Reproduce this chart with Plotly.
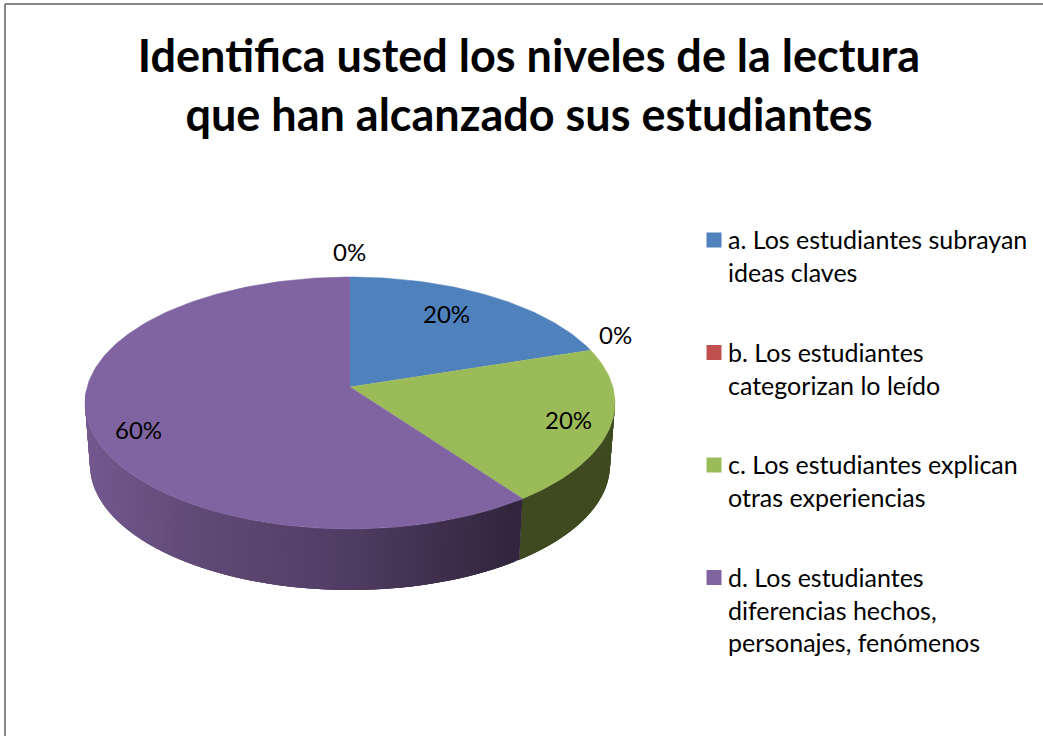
"""
Pastel 3D de los niveles de lectura, dibujado con trazos Scatter sobre ejes en pixeles.
"""
import math
import numpy as np
import plotly.graph_objects as go

TITLE = 'Identifica usted los niveles de la lectura<br>que han alcanzado sus estudiantes'
categories = [
    'a. Los estudiantes subrayan<br>ideas claves',
    'b. Los estudiantes<br>categorizan lo leído',
    'c. Los estudiantes explican<br>otras experiencias',
    'd. Los estudiantes<br>diferencias hechos,<br>personajes, fenómenos',
]
values = [20, 0, 20, 60]
labels = ['20%', '0%', '20%', '60%']
label_zero_top = '0%'

colors = ['#4F81BD', '#C0504D', '#9BBB59', '#8064A2']
side_flat = {2: '#3F4A20'}
FONT = 'Lato'

# geometria del disco (pixeles de la pagina)
WIDTH, HEIGHT = 1043, 736
CX, CY, RX, RY = 350, 403, 265, 126
CY2, RX2, RY2 = 465, 260, 125
APEX = (350, 387)
TILT = 0.47


def rim_point(theta):
    """Corta el rayo desde el vertice con el borde de la elipse superior."""
    dx, dy = math.sin(theta), -math.cos(theta) * TILT
    ox, oy = (APEX[0] - CX) / RX, (APEX[1] - CY) / RY
    a = (dx / RX) ** 2 + (dy / RY) ** 2
    b = 2 * (ox * dx / RX + oy * dy / RY)
    c = ox ** 2 + oy ** 2 - 1
    s = (-b + math.sqrt(b * b - 4 * a * c)) / (2 * a)
    return APEX[0] + s * dx, APEX[1] + s * dy


def purple_shade(x):
    """Degradado del lateral morado, mas oscuro hacia la derecha."""
    stops_x = [85, 200, 350, 450, 522]
    r = np.interp(x, stops_x, [116, 96, 80, 62, 49])
    g = np.interp(x, stops_x, [89, 74, 61, 46, 38])
    b = np.interp(x, stops_x, [143, 118, 100, 76, 62])
    return f'rgb({int(r)},{int(g)},{int(b)})'


fig = go.Figure()

total = sum(values)
start = 0.0
tops = []
for i, val in enumerate(values):
    end = start + val / total * 2 * math.pi
    if val > 0:
        steps = max(2, int(val * 3))
        pts = [rim_point(start + (end - start) * k / steps) for k in range(steps + 1)]
        tops.append((i, pts))
        # lateral: cada tira solapa la siguiente para que no se vean costuras
        for k in range(steps):
            if (pts[k][1] - CY) / RY < -0.05:
                continue
            strip = pts[k:k + 4]
            strip_back = [(CX + RX2 * (s[0] - CX) / RX, CY2 + RY2 * (s[1] - CY) / RY) for s in strip][::-1]
            color = side_flat.get(i, purple_shade(pts[k][0]))
            fig.add_trace(go.Scatter(
                x=[s[0] for s in strip + strip_back],
                y=[s[1] for s in strip + strip_back],
                mode='lines', fill='toself', fillcolor=color,
                line=dict(width=0),
                showlegend=False, hoverinfo='skip'
            ))
    start = end

for i, pts in tops:
    fig.add_trace(go.Scatter(
        x=[APEX[0]] + [p[0] for p in pts],
        y=[APEX[1]] + [p[1] for p in pts],
        mode='lines', fill='toself', fillcolor=colors[i],
        line=dict(color=colors[i], width=0.5),
        showlegend=False, hoverinfo='skip'
    ))

# leyenda a mano: el cuadro va a la altura de la primera linea del texto
LEGEND_X, LEGEND_Y, LEGEND_STEP = 714, 240, 112.5
for i, name in enumerate(categories):
    fig.add_trace(go.Scatter(
        x=[LEGEND_X], y=[LEGEND_Y + i * LEGEND_STEP], mode='markers',
        marker=dict(symbol='square', size=15, color=colors[i], line=dict(width=0)),
        showlegend=False, hoverinfo='skip'
    ))
    fig.add_annotation(x=727, y=LEGEND_Y + i * LEGEND_STEP - 17, text=name, showarrow=False,
                       xanchor='left', yanchor='top', align='left', borderpad=0,
                       font=dict(family=FONT, size=25, color='#000000'))

# etiquetas de datos
label_pos = [(446, 313), (615, 334), (568, 419), (138, 429)]
for text, (x, y) in zip(labels, label_pos):
    fig.add_annotation(x=x, y=y, text=text, showarrow=False,
                       font=dict(family=FONT, size=24, color='#000000'))
fig.add_annotation(x=349, y=251, text=label_zero_top, showarrow=False,
                   font=dict(family=FONT, size=24, color='#000000'))

# marco gris: solo arriba e izquierda quedan dentro de la imagen
frame = dict(type='line', xref='x', yref='y', line=dict(color='#868686', width=2))
fig.add_shape(x0=5, y0=4, x1=WIDTH, y1=4, **frame)
fig.add_shape(x0=5, y0=4, x1=5, y1=HEIGHT, **frame)

fig.update_layout(
    width=WIDTH, height=HEIGHT,
    margin=dict(l=0, r=0, t=0, b=0),
    paper_bgcolor='#FFFFFF', plot_bgcolor='#FFFFFF',
    title=dict(text=TITLE, x=529 / WIDTH, xanchor='center',
               y=1 - 72 / HEIGHT, yanchor='top',
               font=dict(family=FONT, size=45, color='#000000', weight='bold')),
    showlegend=False,
    xaxis=dict(range=[0, WIDTH], visible=False, fixedrange=True),
    yaxis=dict(range=[HEIGHT, 0], visible=False, fixedrange=True),
)

fig.write_html("out.html", config=dict(displayModeBar=False),
               post_script="document.body.style.margin='0';document.body.style.overflow='hidden';")
